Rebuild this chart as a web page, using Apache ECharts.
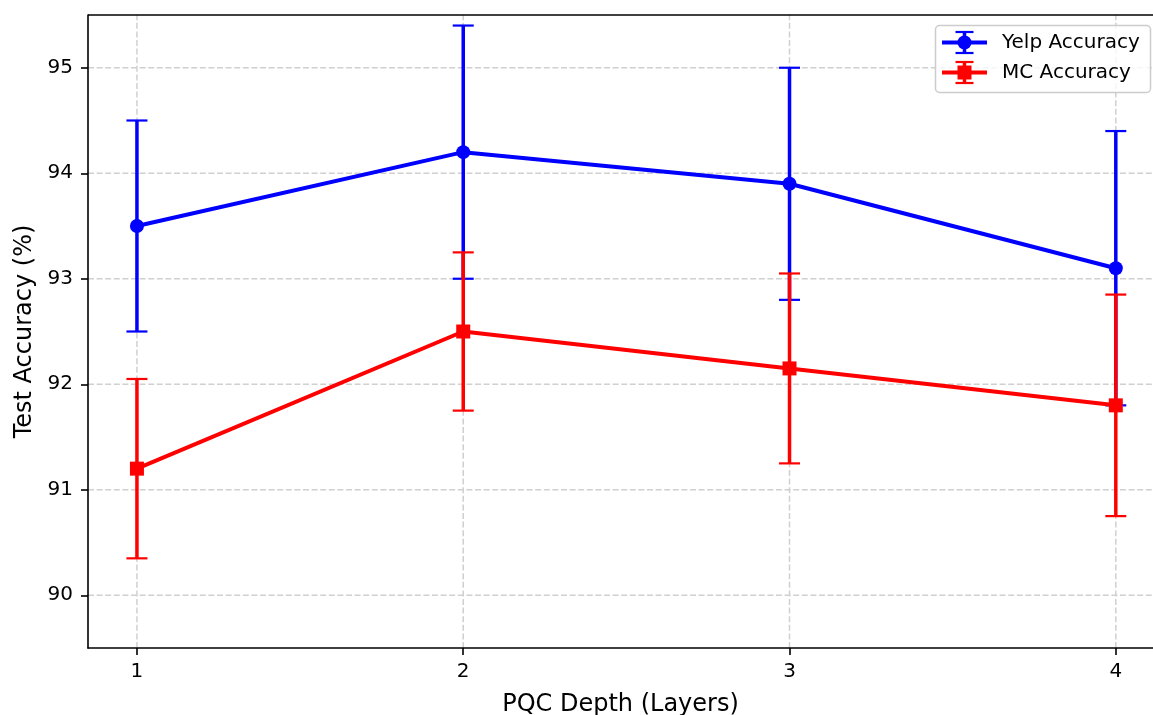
<!DOCTYPE html>
<html>
<head>
<meta charset="utf-8">
<script src="https://cdn.jsdelivr.net/npm/echarts@6/dist/echarts.min.js"></script>
<style>
html,body{margin:0;padding:0;background:#fff;}
#chart{width:1153px;height:715px;}
</style>
</head>
<body>
<div id="chart"></div>
<script>
const depths = [1, 2, 3, 4];
const yelpAcc = [93.5, 94.2, 93.9, 93.1];
const yelpErr = [1.0, 1.2, 1.1, 1.3];
const mcAcc = [91.2, 92.5, 92.15, 91.8];
const mcErr = [0.85, 0.75, 0.9, 1.05];
const xTicks = [1, 2, 3, 4];
const yTicks = [90, 91, 92, 93, 94, 95];
const seriesNames = ['Yelp Accuracy', 'MC Accuracy'];

const FONT = 'DejaVu Sans';
const BLUE = '#0000ff', RED = '#ff0000';
const X_MIN = 0.85, X_MAX = 4.114, Y_MIN = 89.5, Y_MAX = 95.5;

function errData(acc, err) {
  return depths.map((d, i) => [d, acc[i] - err[i], acc[i] + err[i]]);
}
function errRender(color) {
  return function (params, api) {
    const x = api.value(0);
    const lo = api.coord([x, api.value(1)]);
    const hi = api.coord([x, api.value(2)]);
    const cap = 10.5;
    return {
      type: 'group',
      children: [
        {type: 'line', shape: {x1: lo[0], y1: lo[1], x2: hi[0], y2: hi[1]}, style: {stroke: color, lineWidth: 3.5}},
        {type: 'line', shape: {x1: lo[0] - cap, y1: lo[1], x2: lo[0] + cap, y2: lo[1]}, style: {stroke: color, lineWidth: 2.2}},
        {type: 'line', shape: {x1: hi[0] - cap, y1: hi[1], x2: hi[0] + cap, y2: hi[1]}, style: {stroke: color, lineWidth: 2.2}}
      ]
    };
  };
}
const gridData = xTicks.map(v => [0, v]).concat(yTicks.map(v => [1, v]));
function gridRender(params, api) {
  const kind = api.value(0), v = api.value(1);
  let p1, p2;
  if (kind === 0) { p1 = api.coord([v, Y_MIN]); p2 = api.coord([v, Y_MAX]); }
  else { p1 = api.coord([X_MIN, v]); p2 = api.coord([X_MAX, v]); }
  return {type: 'line', shape: {x1: p1[0], y1: p1[1], x2: p2[0], y2: p2[1]},
    style: {stroke: '#d0d0d0', lineWidth: 1.5, lineDash: [6, 2.6]}};
}

const chart = echarts.init(document.getElementById('chart'), null, {renderer: 'canvas'});

function legendItem(y, color, symbol, label) {
  const cx = 964.5, ch = 10.5, cw = 9, z = 21;
  return [
    {type: 'line', z: z, shape: {x1: 942, y1: y, x2: 987, y2: y}, style: {stroke: color, lineWidth: 4}},
    {type: 'line', z: z, shape: {x1: cx, y1: y - ch, x2: cx, y2: y + ch}, style: {stroke: color, lineWidth: 3.5}},
    {type: 'line', z: z, shape: {x1: cx - cw, y1: y - ch, x2: cx + cw, y2: y - ch}, style: {stroke: color, lineWidth: 2.2}},
    {type: 'line', z: z, shape: {x1: cx - cw, y1: y + ch, x2: cx + cw, y2: y + ch}, style: {stroke: color, lineWidth: 2.2}},
    symbol === 'circle'
      ? {type: 'circle', z: z, shape: {cx: cx, cy: y, r: 7}, style: {fill: color}}
      : {type: 'rect', z: z, shape: {x: cx - 7, y: y - 7, width: 14, height: 14}, style: {fill: color}},
    {type: 'text', z: z, x: 1002, y: y, style: {text: label, fill: '#000', font: '20px "DejaVu Sans"', verticalAlign: 'middle'}}
  ];
}

const option = {
  animation: false,
  backgroundColor: '#fff',
  grid: {left: 88, right: 0, top: 15, bottom: 67, containLabel: false, outerBoundsMode: 'none'},
  xAxis: {
    type: 'value', min: X_MIN, max: X_MAX,
    name: 'PQC Depth (Layers)', nameLocation: 'middle', nameGap: 45,
    nameTextStyle: {fontFamily: FONT, fontSize: 24, color: '#000'},
    axisLine: {show: true, onZero: false, lineStyle: {color: '#000', width: 1.6}},
    axisTick: {show: true, length: 7, lineStyle: {color: '#000', width: 1.6}, customValues: xTicks},
    axisLabel: {fontFamily: FONT, fontSize: 20, color: '#000', margin: 14, customValues: xTicks, formatter: v => String(v)},
    splitLine: {show: false}
  },
  yAxis: {
    type: 'value', min: Y_MIN, max: Y_MAX,
    name: 'Test Accuracy (%)', nameLocation: 'middle', nameGap: 50,
    nameTextStyle: {fontFamily: FONT, fontSize: 24, color: '#000'},
    axisLine: {show: true, onZero: false, lineStyle: {color: '#000', width: 1.6}},
    axisTick: {show: true, length: 7, lineStyle: {color: '#000', width: 1.6}, customValues: yTicks},
    axisLabel: {fontFamily: FONT, fontSize: 20, color: '#000', margin: 15, customValues: yTicks, formatter: v => String(v)},
    splitLine: {show: false}
  },
  series: [
    {type: 'custom', name: 'grid', data: gridData, renderItem: gridRender, z: 0, silent: true, clip: true},
    {type: 'custom', name: seriesNames[0] + ' err', data: errData(yelpAcc, yelpErr), renderItem: errRender(BLUE), z: 2, silent: true},
    {
      type: 'line', name: seriesNames[0], data: depths.map((d, i) => [d, yelpAcc[i]]), z: 3,
      symbol: 'circle', symbolSize: 14, showAllSymbol: true,
      lineStyle: {color: BLUE, width: 4}, itemStyle: {color: BLUE, borderWidth: 0}
    },
    {type: 'custom', name: seriesNames[1] + ' err', data: errData(mcAcc, mcErr), renderItem: errRender(RED), z: 4, silent: true},
    {
      type: 'line', name: seriesNames[1], data: depths.map((d, i) => [d, mcAcc[i]]), z: 5,
      symbol: 'rect', symbolSize: 14, showAllSymbol: true,
      lineStyle: {color: RED, width: 4}, itemStyle: {color: RED, borderWidth: 0}
    }
  ],
  graphic: [
    {type: 'line', z: 10, shape: {x1: 88, y1: 15, x2: 1153, y2: 15}, style: {stroke: '#000', lineWidth: 1.6}},
    {type: 'rect', z: 20, shape: {x: 935.5, y: 25.5, width: 215, height: 67, r: 4}, style: {fill: 'rgba(255,255,255,0.8)', stroke: '#cccccc', lineWidth: 1.5}}
  ].concat(legendItem(42.5, BLUE, 'circle', seriesNames[0]), legendItem(72.5, RED, 'rect', seriesNames[1]))
};
chart.setOption(option);
</script>
</body>
</html>
